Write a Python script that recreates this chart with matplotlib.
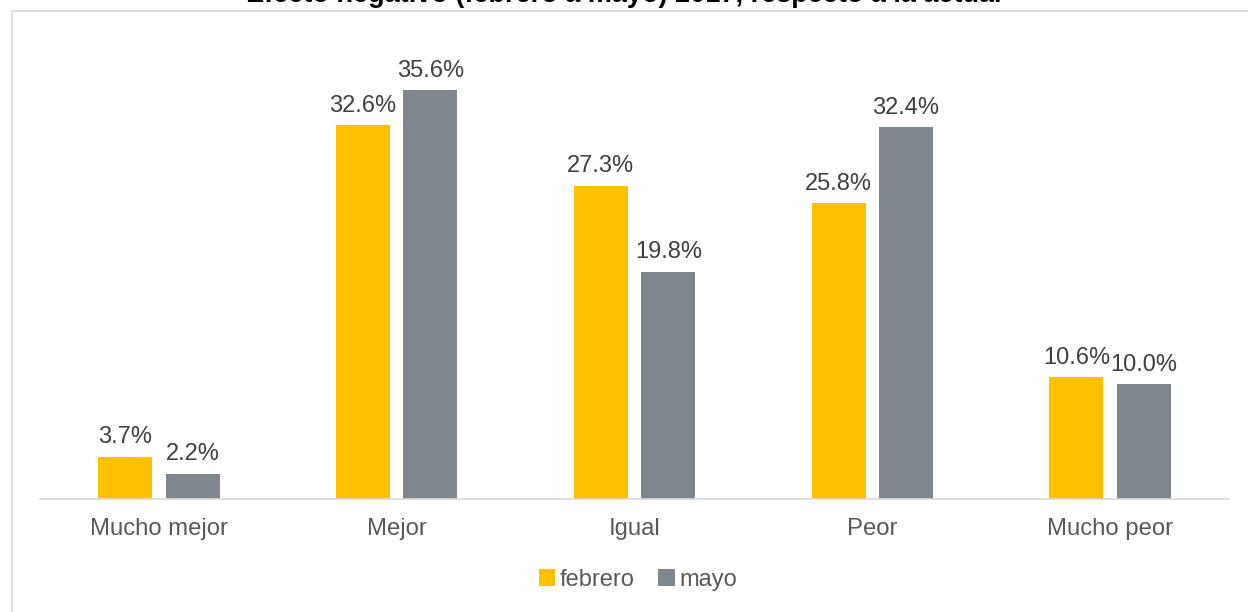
import matplotlib
matplotlib.use("Agg")
import matplotlib.pyplot as plt
import numpy as np
from matplotlib.patches import Rectangle

categories = ["Mucho mejor", "Mejor", "Igual", "Peor", "Mucho peor"]
series_names = ["febrero", "mayo"]
febrero = [3.7, 32.6, 27.3, 25.8, 10.6]
mayo = [2.2, 35.6, 19.8, 32.4, 10.0]
title = "Efecto negativo (febrero a mayo) 2017, respecto a la actual"

colors = ["#FFC000", "#7F878C"]

plt.rcParams['font.family'] = ['Liberation Sans', 'DejaVu Sans']

fig = plt.figure(figsize=(12.48, 6.12), dpi=100)
fig.patch.set_facecolor("white")

# chart border
fig.patches.append(Rectangle((12/1248, -0.1), 1.2, 1.1 - 11/612, transform=fig.transFigure,
                             fill=False, edgecolor="#D9D9D9", linewidth=1.2, zorder=0))

# title (partly outside the top edge, as in the source)
fig.text(0.50, 1 - 2/612, title, ha="center", va="baseline", fontsize=19.5,
         fontweight="bold", color="black")

ax = fig.add_axes([40/1248, 1 - 499/612, (1229-40)/1248, (499-40)/612])
x = np.arange(len(categories))
w = 0.227
off = 0.142
b1 = ax.bar(x - off, febrero, w, color=colors[0], label=series_names[0], zorder=2)
b2 = ax.bar(x + off, mayo, w, color=colors[1], label=series_names[1], zorder=2)

for bars, vals in ((b1, febrero), (b2, mayo)):
    for r, v in zip(bars, vals):
        ax.annotate(f"{v:.1f}%", (r.get_x() + r.get_width()/2, r.get_height()),
                    xytext=(0, 6), textcoords="offset points", ha="center", va="bottom",
                    fontsize=17, color="#404040")

ax.set_xlim(-0.5, len(categories) - 0.5)
ax.set_ylim(0, 40)
ax.set_xticks(x)
ax.set_xticklabels(categories, fontsize=17.2, color="#595959")
ax.tick_params(axis="x", length=0, pad=14)
ax.set_yticks([])
for s in ("top", "right", "left"):
    ax.spines[s].set_visible(False)
ax.spines["bottom"].set_color("#D9D9D9")
ax.spines["bottom"].set_linewidth(1.2)

leg = fig.legend(handles=[b1, b2], labels=series_names, loc="center",
                 bbox_to_anchor=(638/1248, 1 - 580/612), ncol=2, frameon=False,
                 fontsize=17, handlelength=0.7, handleheight=0.7, handletextpad=0.2,
                 columnspacing=1.0)
for t in leg.get_texts():
    t.set_color("#595959")

fig.savefig("out.png", dpi=100, facecolor="white")
